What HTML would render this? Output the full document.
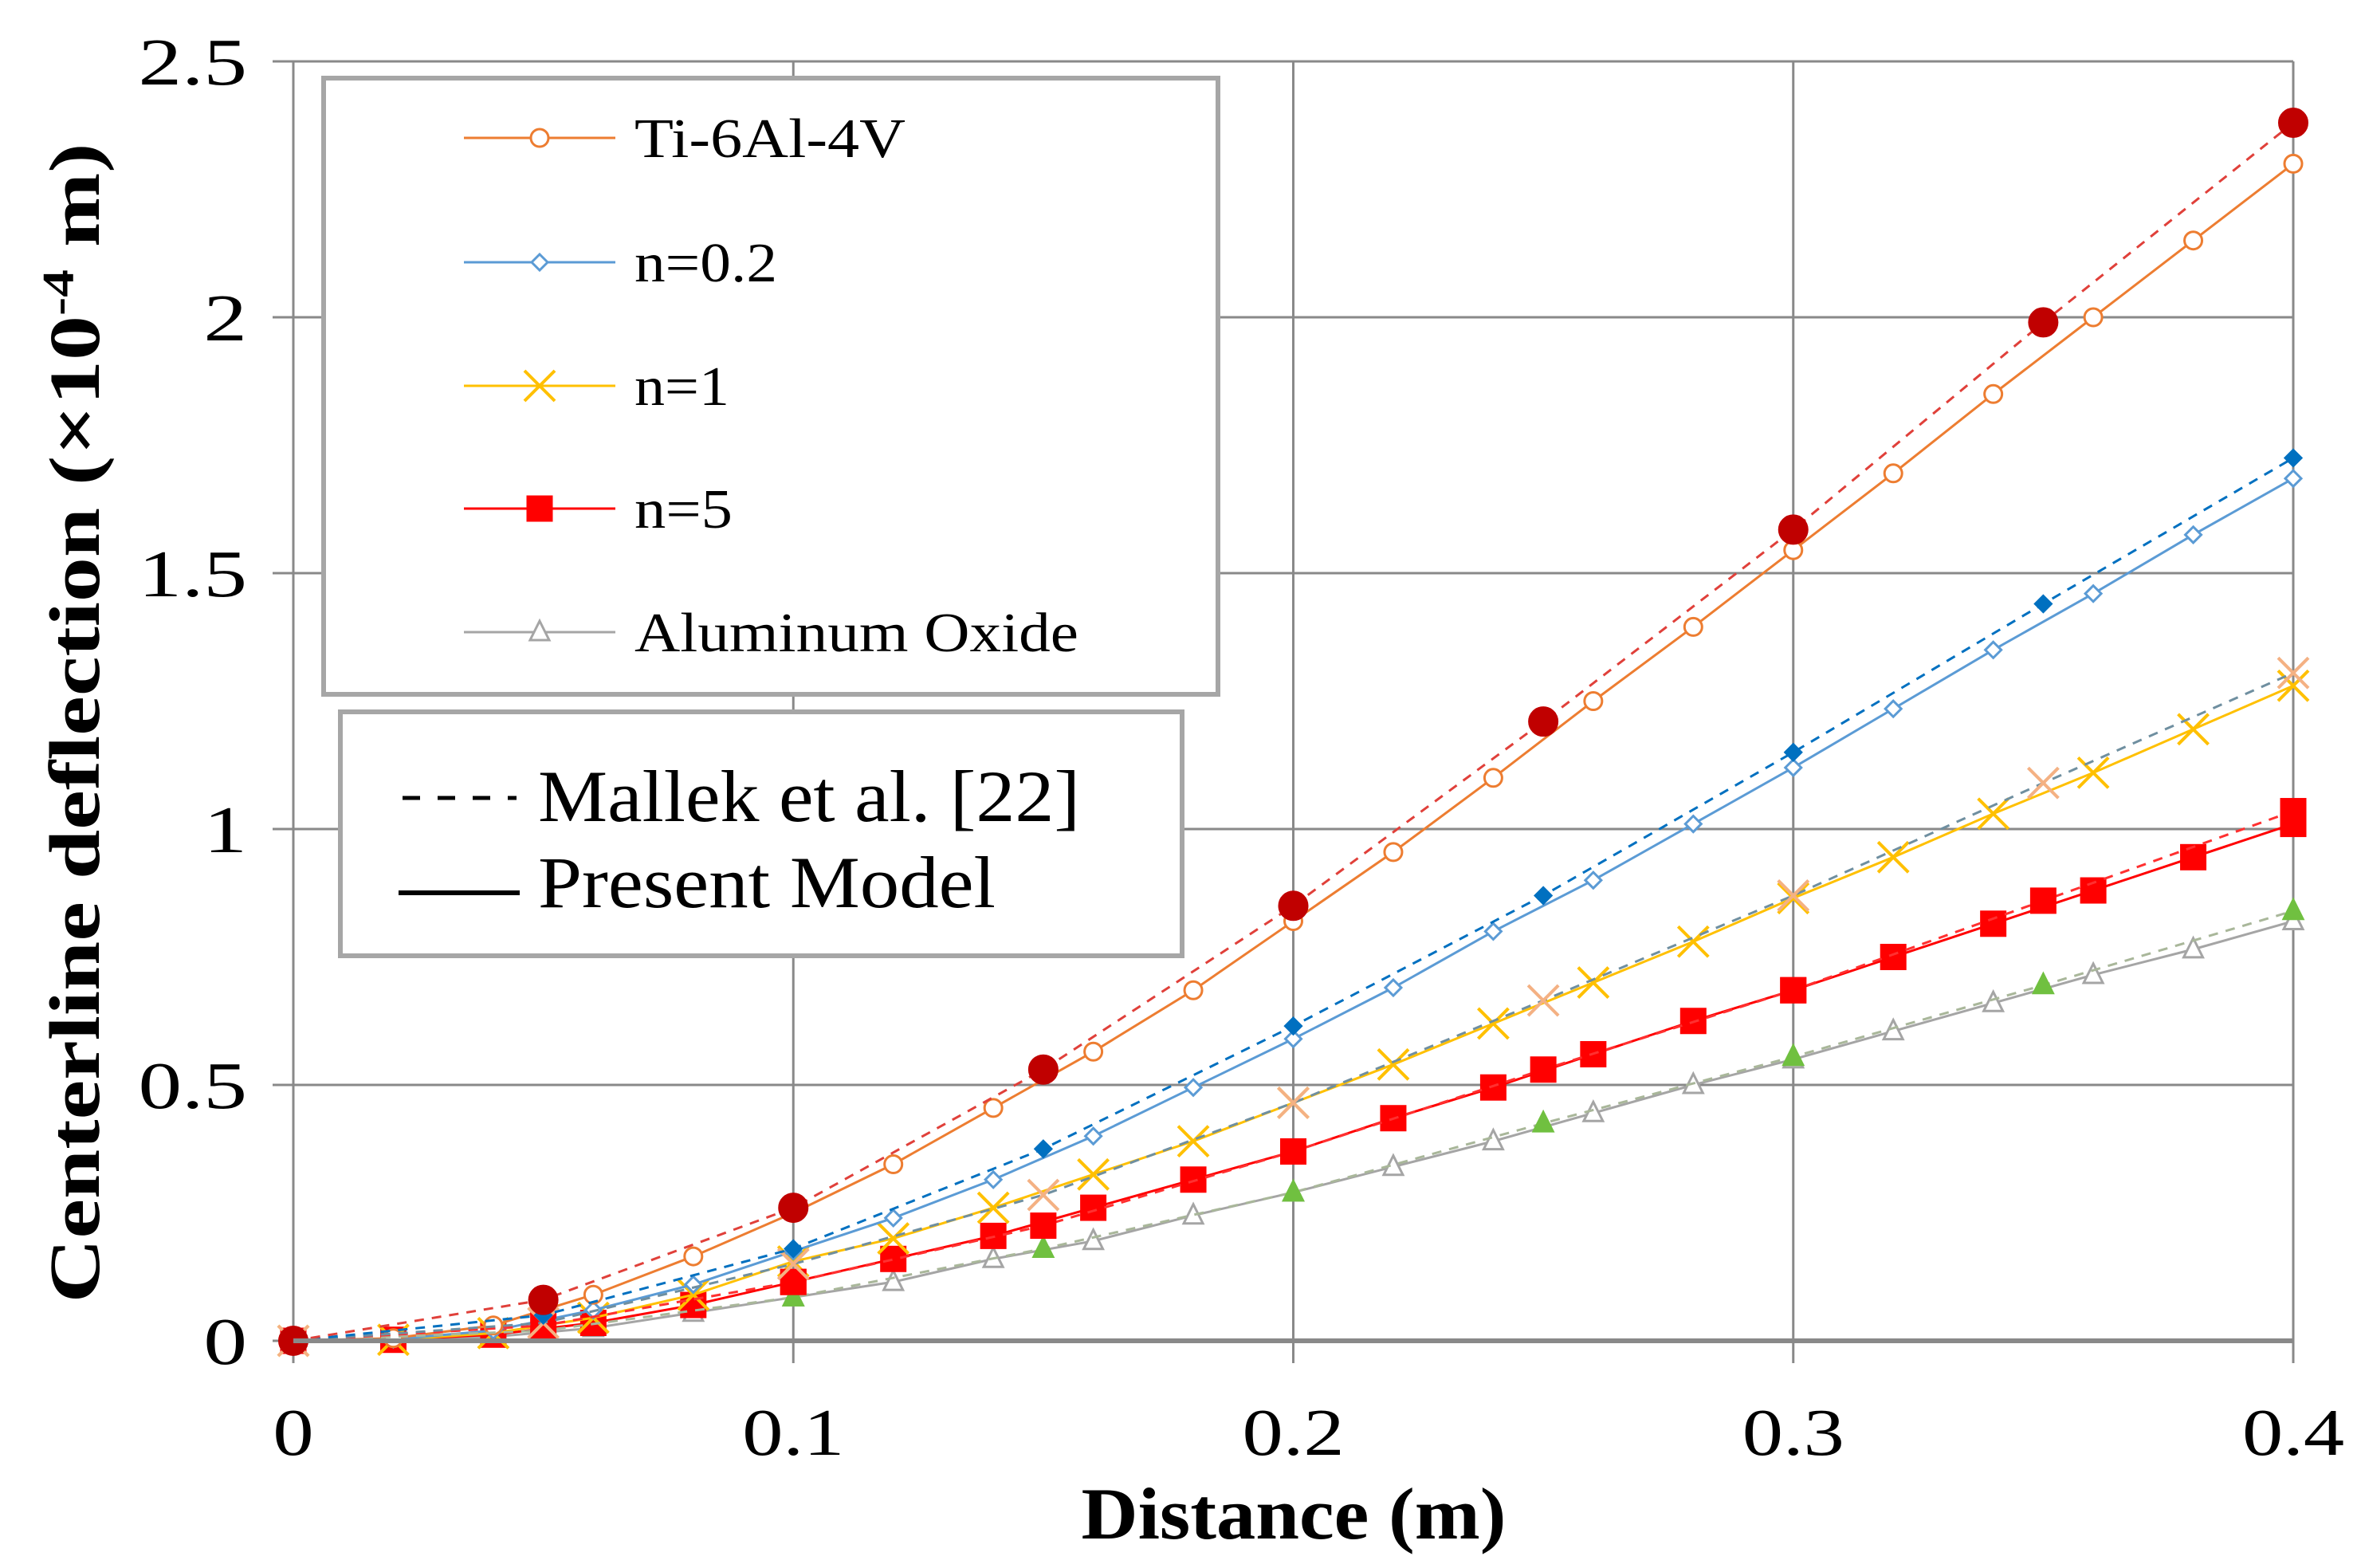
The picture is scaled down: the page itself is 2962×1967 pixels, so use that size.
<!DOCTYPE html>
<html><head><meta charset="utf-8"><style>
html,body{margin:0;padding:0;background:#fff;}
svg{display:block;font-family:"Liberation Serif",serif;}
</style></head><body>
<svg id="chart" width="2962" height="1967" viewBox="0 0 2962 1967" xmlns="http://www.w3.org/2000/svg">
<g id="grid"></g>
<g id="series"></g>
<g id="axes"></g>
<text x="1623" y="1930" text-anchor="middle" font-size="92" font-weight="bold" textLength="533" lengthAdjust="spacingAndGlyphs">Distance (m)</text>
<text transform="translate(124,907) rotate(-90)" text-anchor="middle" font-size="90" font-weight="bold" textLength="1455" lengthAdjust="spacingAndGlyphs">Centerline deflection (×10<tspan dy="-32" font-size="56">-4</tspan><tspan dy="32"> m)</tspan></text>
<g>
<rect x="406" y="98" width="1122" height="773" fill="#fff" stroke="#a6a6a6" stroke-width="6"/>
<g id="legA"></g>
</g>
<g>
<rect x="427" y="893" width="1056" height="306" fill="#fff" stroke="#a6a6a6" stroke-width="6"/>
<line x1="505" y1="1001" x2="648" y2="1001" stroke="#000" stroke-width="5" stroke-dasharray="22,22"/>
<text x="675" y="1030" font-size="92" textLength="680" lengthAdjust="spacingAndGlyphs">Mallek et al. [22]</text>
<line x1="500" y1="1120" x2="652" y2="1120" stroke="#000" stroke-width="6"/>
<text x="675" y="1138" font-size="92" textLength="574" lengthAdjust="spacingAndGlyphs">Present Model</text>
</g>
</svg>
<script>
const xTicks=[0,0.1,0.2,0.3,0.4];
const xTickLabels=["0","0.1","0.2","0.3","0.4"];
const yTicks=[0,0.5,1,1.5,2,2.5];
const yTickLabels=["0","0.5","1","1.5","2","2.5"];
const seriesNames=["Ti-6Al-4V","n=0.2","n=1","n=5","Aluminum Oxide"];
const xPresent=[0,0.02,0.04,0.06,0.08,0.1,0.12,0.14,0.16,0.18,0.2,0.22,0.24,0.26,0.28,0.3,0.32,0.34,0.36,0.38,0.4];
const xMallek=[0,0.05,0.1,0.15,0.2,0.25,0.3,0.35,0.4];
const tiPresent=[0,0.005,0.03,0.09,0.165,0.25,0.345,0.455,0.565,0.685,0.82,0.955,1.1,1.25,1.395,1.545,1.695,1.85,2.0,2.15,2.3];
const n02Present=[0,0.003,0.02,0.06,0.11,0.175,0.24,0.315,0.4,0.495,0.59,0.69,0.8,0.9,1.01,1.12,1.235,1.35,1.46,1.575,1.685];
const n1Present=[0,0.002,0.015,0.045,0.09,0.155,0.2,0.26,0.325,0.39,0.465,0.54,0.62,0.7,0.78,0.865,0.945,1.03,1.11,1.195,1.28];
const n5Present=[0,0.002,0.012,0.035,0.07,0.115,0.16,0.205,0.26,0.315,0.37,0.435,0.495,0.56,0.625,0.685,0.75,0.815,0.88,0.945,1.01];
const alPresent=[0,0.001,0.008,0.025,0.055,0.085,0.115,0.16,0.195,0.245,0.29,0.34,0.39,0.445,0.5,0.55,0.605,0.66,0.715,0.765,0.82];
const tiMallek=[0,0.08,0.26,0.53,0.85,1.21,1.585,1.99,2.38];
const n02Mallek=[0,0.05,0.18,0.375,0.615,0.87,1.15,1.44,1.725];
const n1Mallek=[0,0.035,0.15,0.285,0.465,0.665,0.87,1.09,1.305];
const n5Mallek=[0,0.03,0.115,0.225,0.37,0.53,0.685,0.86,1.035];
const alMallek=[0,0.02,0.085,0.18,0.29,0.425,0.555,0.695,0.84];

const NS="http://www.w3.org/2000/svg";
const X0=368,X1=2877,Y0=1682,Y1=77;
function sx(v){return X0+(v-0)/(0.4-0)*(X1-X0);}
function sy(v){return Y0-(v-0)/(2.5-0)*(Y0-Y1);}
function mk(tag,attrs,parent){const e=document.createElementNS(NS,tag);for(const k in attrs)e.setAttribute(k,attrs[k]);parent.appendChild(e);return e;}
const grid=document.getElementById('grid'),axes=document.getElementById('axes'),ser=document.getElementById('series'),legA=document.getElementById('legA');
xTicks.forEach((t,i)=>{
  const l=mk('line',{x1:sx(t),x2:sx(t),y1:Y1,y2:Y0+28,stroke:'#898989','stroke-width':3},grid);
  
  
  const tx=mk('text',{x:0,y:0,'text-anchor':'middle','font-size':84,transform:`translate(${sx(t)},1825) scale(1.22,1)`},axes);
  tx.textContent=xTickLabels[i];
  
  
});
yTicks.forEach((t,i)=>{
  const l=mk('line',{x1:X0-26,x2:X1,y1:sy(t),y2:sy(t),stroke:'#898989','stroke-width':3},grid);
  
  
  const tx=mk('text',{x:0,y:0,'text-anchor':'end','font-size':84,transform:`translate(310,${sy(t)+29}) scale(1.3,1)`},axes);
  tx.textContent=yTickLabels[i];
  
  
});
const xa=mk('line',{x1:X0,x2:X1,y1:Y0,y2:Y0,stroke:'#898989','stroke-width':6},axes);



function marker(type,x,y,color,fill,parent){
  let e;
  if(type==='circle'){e=mk('circle',{cx:x,cy:y,r:11,fill:fill,stroke:color,'stroke-width':3},parent);}
  else if(type==='bigcircle'){e=mk('circle',{cx:x,cy:y,r:18,fill:fill,stroke:color,'stroke-width':2},parent);}
  else if(type==='diamond'){const s=10;e=mk('path',{d:`M${x},${y-s}L${x+s},${y}L${x},${y+s}L${x-s},${y}Z`,fill:fill,stroke:color,'stroke-width':3},parent);}
  else if(type==='x'){e=mk('path',{d:`M${x-19},${y-19}L${x+19},${y+19}M${x-19},${y+19}L${x+19},${y-19}`,stroke:color,'stroke-width':4,fill:'none'},parent);}
  else if(type==='square'){e=mk('rect',{x:x-16,y:y-16,width:32,height:32,fill:fill,stroke:color,'stroke-width':1},parent);}
  else if(type==='triangle'){e=mk('path',{d:`M${x},${y-14}L${x+12},${y+10}L${x-12},${y+10}Z`,fill:fill,stroke:color,'stroke-width':3},parent);}
  
  
}
function drawSeries(xs,ys,lineColor,dash,mType,mColor,mFill,name,width){
  const g=mk('g',{},ser);
  
  
  const pts=xs.map((x,i)=>sx(x)+','+sy(ys[i])).join(' ');
  const attrs={points:pts,fill:'none',stroke:lineColor,'stroke-width':width};
  if(dash)attrs['stroke-dasharray']=dash;
  mk('polyline',attrs,g);
  xs.forEach((x,i)=>marker(mType,sx(x),sy(ys[i]),mColor,mFill,g));
}
drawSeries(xPresent,alPresent,'#a5a5a5',null,'triangle','#a5a5a5','#fff','series-alumina-present',3);
drawSeries(xPresent,n5Present,'#ff0000',null,'square','#ff0000','#ff0000','series-n5-present',3);
drawSeries(xPresent,n1Present,'#ffc000',null,'x','#ffc000','none','series-n1-present',3);
drawSeries(xPresent,n02Present,'#5b9bd5',null,'diamond','#5b9bd5','#fff','series-n02-present',3);
drawSeries(xPresent,tiPresent,'#ed7d31',null,'circle','#ed7d31','#fff','series-ti-present',3);
drawSeries(xMallek,alMallek,'#a9b79a','12,10','triangle','#70c040','#70c040','series-alumina-mallek',3);
drawSeries(xMallek,n5Mallek,'#ff3030','12,10','square','#ff0000','#ff0000','series-n5-mallek',3);
drawSeries(xMallek,n1Mallek,'#6f8fa0','12,10','x','#f4b183','none','series-n1-mallek',3);
drawSeries(xMallek,n02Mallek,'#0070c0','12,10','diamond','#0070c0','#0070c0','series-n02-mallek',3);
drawSeries(xMallek,tiMallek,'#e0403a','12,10','bigcircle','#c00000','#c00000','series-ti-mallek',3);

const legRows=[173,329,484,638,793];
const legColors=['#ed7d31','#5b9bd5','#ffc000','#ff0000','#a5a5a5'];
const legTypes=['circle','diamond','x','square','triangle'];
const legFills=['#fff','#fff','none','#ff0000','#fff'];
const legLens=[340,179,119,123,557];
seriesNames.forEach((n,i)=>{
  const g=mk('g',{},legA);
  
  
  mk('line',{x1:582,x2:772,y1:legRows[i],y2:legRows[i],stroke:legColors[i],'stroke-width':3},g);
  marker(legTypes[i],677,legRows[i],legColors[i],legFills[i],g);
  const t=mk('text',{x:796,y:legRows[i]+24,'font-size':70,textLength:legLens[i],lengthAdjust:'spacingAndGlyphs'},g);
  t.textContent=n;
});
</script>
</body></html>
